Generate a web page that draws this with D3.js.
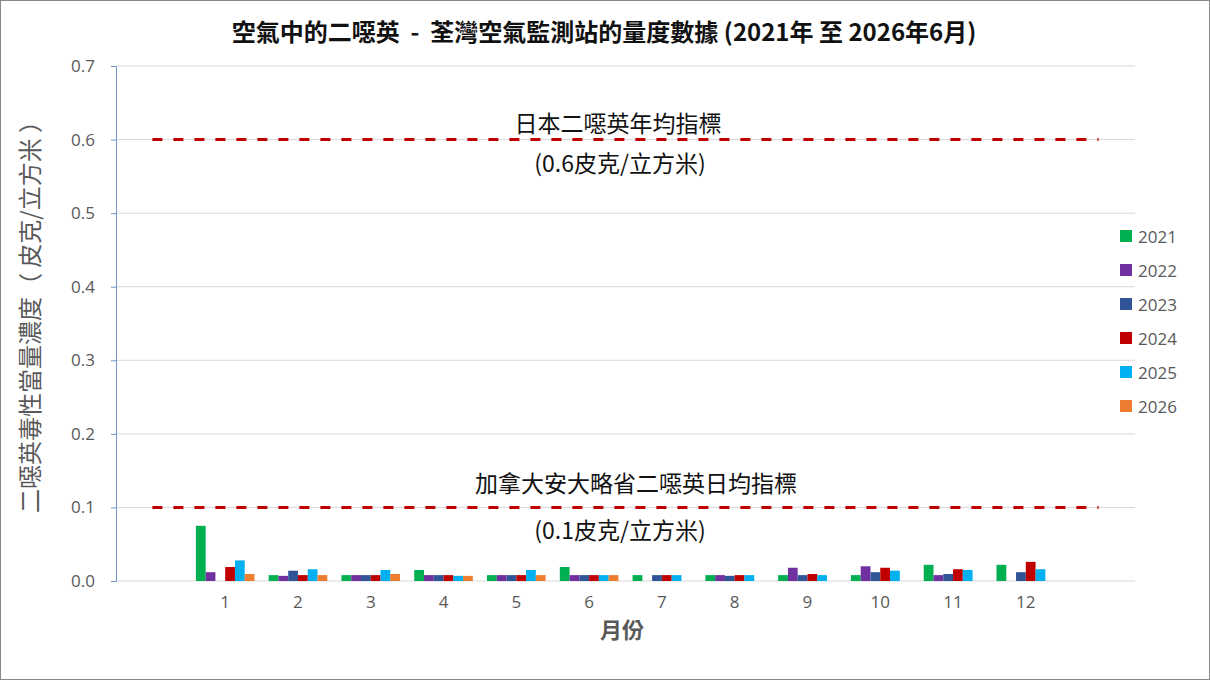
<!DOCTYPE html>
<html>
<head>
<meta charset="utf-8">
<script src="https://cdn.jsdelivr.net/npm/d3@7"></script>
<style>
  body { margin: 0; background: #fff; }
  text { font-family: "Noto Sans CJK TC", "Noto Sans", sans-serif; white-space: pre; }
</style>
</head>
<body>
<script>
const W = 1210, H = 680;

// categories: blank slot on each side like the original sheet
const months = ["", "1", "2", "3", "4", "5", "6", "7", "8", "9", "10", "11", "12", " "];
const years = ["2021", "2022", "2023", "2024", "2025", "2026"];
const colors = ["#00b050", "#7030a0", "#2f5597", "#c00000", "#00b0f0", "#ed7d31"];

// monthly readings, pg/m3 (null = no bar)
const v2021 = [0.075, 0.008, 0.008, 0.015, 0.008, 0.019, 0.008, 0.008, 0.008, 0.008, 0.022, 0.022];
const v2022 = [0.012, 0.007, 0.008, 0.008, 0.008, 0.008, null, 0.008, 0.018, 0.020, 0.008, null];
const v2023 = [null, 0.014, 0.008, 0.008, 0.008, 0.008, 0.008, 0.007, 0.008, 0.012, 0.0095, 0.012];
const v2024 = [0.019, 0.008, 0.008, 0.008, 0.008, 0.008, 0.008, 0.008, 0.0095, 0.018, 0.016, 0.026];
const v2025 = [0.028, 0.016, 0.015, 0.007, 0.015, 0.008, 0.008, 0.008, 0.008, 0.014, 0.015, 0.016];
const v2026 = [0.0095, 0.008, 0.0095, 0.007, 0.008, 0.008, null, null, null, null, null, null];
const series = [v2021, v2022, v2023, v2024, v2025, v2026];

const japanLimit = 0.6, ontarioLimit = 0.1;
const yTicks = [0, 0.1, 0.2, 0.3, 0.4, 0.5, 0.6, 0.7];

const svg = d3.select("body").append("svg")
  .attr("width", W).attr("height", H);

svg.append("rect")
  .attr("x", 0.5).attr("y", 0.5).attr("width", W - 1).attr("height", H - 1)
  .attr("fill", "#fff").attr("stroke", "#888");

const pLeft = 116, pRight = 1135, pTop = 66, pBottom = 581;

const x = d3.scaleBand().domain(months).range([pLeft, pRight]).padding(0);
const bw = x.bandwidth();
const groupW = bw * 0.805;
const x1 = d3.scaleBand().domain(years).range([0, groupW]);
const y = d3.scaleLinear().domain([0, 0.7]).range([pBottom, pTop]);

// grid
svg.append("g").selectAll("line")
  .data(yTicks)
  .enter().append("line")
  .attr("x1", pLeft).attr("x2", pRight)
  .attr("y1", d => y(d)).attr("y2", d => y(d))
  .attr("stroke", "#d9d9d9").attr("stroke-width", 1);

// y axis
const yAxis = d3.axisLeft(y).tickValues(yTicks).tickFormat(d3.format(".1f")).tickSize(5).tickPadding(16);
const ga = svg.append("g").attr("transform", "translate(" + pLeft + ",0)").call(yAxis);
ga.select(".domain").attr("stroke", "#6f97cc");
ga.selectAll(".tick line").attr("stroke", "#6f97cc");
ga.selectAll(".tick text").attr("fill", "#595959").style("font-size", "17px")
  .style("font-family", "'Open Sans', 'Noto Sans', sans-serif");

// x labels
const xAxis = d3.axisBottom(x).tickSize(0).tickPadding(15);
const gx = svg.append("g").attr("transform", "translate(0," + pBottom + ")").call(xAxis);
gx.select(".domain").remove();
gx.selectAll(".tick text").attr("fill", "#595959").style("font-size", "17px")
  .style("font-family", "'Open Sans', 'Noto Sans', sans-serif");

// bars
const monthNums = months.slice(1, 13);
years.forEach((yr, i) => {
  svg.append("g").selectAll("rect")
    .data(series[i].map((v, j) => ({ m: monthNums[j], v: v })).filter(d => d.v != null))
    .enter().append("rect")
    .attr("x", d => x(d.m) + (bw - groupW) / 2 + x1(yr))
    .attr("width", x1.bandwidth())
    .attr("y", d => y(d.v))
    .attr("height", d => y(0) - y(d.v))
    .attr("fill", colors[i]);
});

// limit lines across all categories
const line = d3.line().x(d => x(d.m) + bw / 2).y(d => y(d.v));
[japanLimit, ontarioLimit].forEach(lim => {
  svg.append("path")
    .datum(months.map(m => ({ m: m, v: lim })))
    .attr("d", line)
    .attr("fill", "none")
    .attr("stroke", "#c00000")
    .attr("stroke-width", 3)
    .attr("stroke-dasharray", "10,11");
});

// annotations
const notes = [
  { t: "日本二噁英年均指標", x: 618, y: 132 },
  { t: "(0.6皮克/立方米)", x: 620, y: 172 },
  { t: "加拿大安大略省二噁英日均指標", x: 636, y: 492 },
  { t: "(0.1皮克/立方米)", x: 620, y: 539 }
];
svg.selectAll(".note").data(notes).enter().append("text")
  .attr("x", d => d.x).attr("y", d => d.y)
  .attr("text-anchor", "middle")
  .style("font-size", "23px").attr("fill", "#111")
  .text(d => d.t);

// title
svg.append("text")
  .attr("x", 604).attr("y", 41)
  .attr("text-anchor", "middle")
  .style("font-size", "24px").style("font-weight", "bold").attr("fill", "#111")
  .text("空氣中的二噁英  -  荃灣空氣監測站的量度數據 (2021年 至 2026年6月)");

// axis titles
svg.append("text")
  .attr("x", 622).attr("y", 638)
  .attr("text-anchor", "middle")
  .style("font-size", "22px").style("font-weight", "bold").attr("fill", "#595959")
  .text("月份");

svg.append("text")
  .attr("transform", "translate(39,311) rotate(-90)")
  .attr("text-anchor", "middle")
  .style("font-size", "24px").attr("fill", "#595959")
  .text("二噁英毒性當量濃度（ 皮克/立方米 ）");

// legend
const lg = svg.append("g").selectAll("g")
  .data(years)
  .enter().append("g")
  .attr("transform", (d, i) => "translate(1120," + (230 + i * 34) + ")");
lg.append("rect").attr("width", 12).attr("height", 12).attr("fill", (d, i) => colors[i]);
lg.append("text").attr("x", 18).attr("y", 13)
  .style("font-size", "17px").attr("fill", "#595959")
  .style("font-family", "'Open Sans', 'Noto Sans', sans-serif")
  .text(d => d);
</script>
</body>
</html>
